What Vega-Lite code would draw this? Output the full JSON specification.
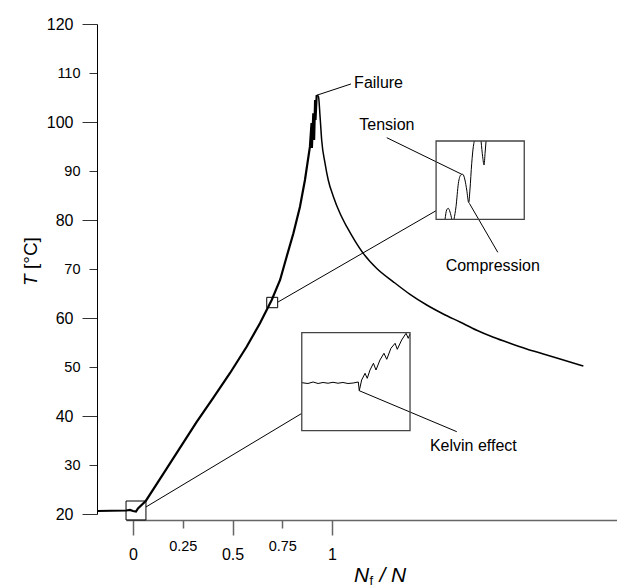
{
  "$schema": "https://vega.github.io/schema/vega-lite/v6.json",
  "width": 491,
  "height": 490,
  "autosize": {"type": "none"},
  "padding": {"left": 126, "top": 24, "right": 0, "bottom": 74},
  "background": "white",
  "config": {"view": {"stroke": null}, "font": "Liberation Sans", "axis": {"grid": false}},
  "datasets": {
    "rise": [
      {"x": -0.181, "y": 20.61}, {"x": -0.035, "y": 20.71}, {"x": -0.015, "y": 20.82}, {"x": 0.0, "y": 20.61},
      {"x": 0.015, "y": 20.51}, {"x": 0.025, "y": 21.12}, {"x": 0.065, "y": 22.71}, {"x": 0.152, "y": 28.18},
      {"x": 0.236, "y": 33.49}, {"x": 0.320, "y": 38.82}, {"x": 0.404, "y": 43.76}, {"x": 0.487, "y": 48.73},
      {"x": 0.571, "y": 54.14}, {"x": 0.638, "y": 58.92}, {"x": 0.697, "y": 63.67}, {"x": 0.739, "y": 67.76},
      {"x": 0.772, "y": 72.51}, {"x": 0.806, "y": 77.29}, {"x": 0.839, "y": 82.71}, {"x": 0.864, "y": 88.16},
      {"x": 0.889, "y": 94.96}, {"x": 0.897, "y": 99.80}, {"x": 0.899, "y": 94.69}, {"x": 0.906, "y": 101.78},
      {"x": 0.910, "y": 96.33}, {"x": 0.915, "y": 104.49}, {"x": 0.917, "y": 100.41}, {"x": 0.923, "y": 105.51}
    ],
    "decay": [
      {"x": 0.923, "y": 105.51}, {"x": 0.932, "y": 105.16}, {"x": 0.940, "y": 101.08}, {"x": 0.948, "y": 96.33},
      {"x": 0.965, "y": 91.57}, {"x": 0.981, "y": 88.16}, {"x": 1.007, "y": 84.76}, {"x": 1.040, "y": 81.37},
      {"x": 1.074, "y": 78.63}, {"x": 1.116, "y": 75.71}, {"x": 1.157, "y": 73.20}, {"x": 1.225, "y": 70.10},
      {"x": 1.308, "y": 67.39}, {"x": 1.392, "y": 64.82}, {"x": 1.476, "y": 62.65}, {"x": 1.559, "y": 60.82},
      {"x": 1.643, "y": 59.18}, {"x": 1.727, "y": 57.49}, {"x": 1.811, "y": 56.06}, {"x": 1.894, "y": 54.84},
      {"x": 1.978, "y": 53.69}, {"x": 2.062, "y": 52.67}, {"x": 2.146, "y": 51.65}, {"x": 2.263, "y": 50.20}
    ],
    "insetLow": [
      {"x": 0.848, "y": 46.80}, {"x": 0.879, "y": 46.63}, {"x": 0.905, "y": 46.94}, {"x": 0.930, "y": 46.63},
      {"x": 0.955, "y": 46.84}, {"x": 0.980, "y": 46.69}, {"x": 1.005, "y": 46.88}, {"x": 1.030, "y": 46.69},
      {"x": 1.055, "y": 46.84}, {"x": 1.080, "y": 46.63}, {"x": 1.106, "y": 46.73}, {"x": 1.132, "y": 46.94},
      {"x": 1.137, "y": 45.16}, {"x": 1.149, "y": 47.35}, {"x": 1.166, "y": 48.71}, {"x": 1.177, "y": 47.69},
      {"x": 1.191, "y": 49.39}, {"x": 1.208, "y": 50.76}, {"x": 1.221, "y": 49.39}, {"x": 1.241, "y": 51.43},
      {"x": 1.261, "y": 52.80}, {"x": 1.275, "y": 51.57}, {"x": 1.296, "y": 53.82}, {"x": 1.317, "y": 54.84},
      {"x": 1.328, "y": 53.61}, {"x": 1.350, "y": 55.51}, {"x": 1.372, "y": 56.88}, {"x": 1.383, "y": 55.86},
      {"x": 1.392, "y": 56.73}
    ],
    "insetUp": [
      {"seg": "a", "x": 1.568, "y": 80.14}, {"seg": "a", "x": 1.576, "y": 82.04}, {"seg": "a", "x": 1.584, "y": 82.39},
      {"seg": "a", "x": 1.593, "y": 81.63}, {"seg": "a", "x": 1.602, "y": 80.14},
      {"seg": "b", "x": 1.613, "y": 80.14}, {"seg": "b", "x": 1.623, "y": 82.71}, {"seg": "b", "x": 1.635, "y": 87.49},
      {"seg": "b", "x": 1.647, "y": 89.18}, {"seg": "b", "x": 1.657, "y": 89.33}, {"seg": "b", "x": 1.668, "y": 88.16},
      {"seg": "b", "x": 1.677, "y": 86.12}, {"seg": "b", "x": 1.687, "y": 83.53}, {"seg": "b", "x": 1.693, "y": 86.12},
      {"seg": "b", "x": 1.702, "y": 91.57}, {"seg": "b", "x": 1.710, "y": 94.96}, {"seg": "b", "x": 1.715, "y": 96.12},
      {"seg": "c", "x": 1.749, "y": 96.12}, {"seg": "c", "x": 1.757, "y": 92.92}, {"seg": "c", "x": 1.764, "y": 91.22},
      {"seg": "c", "x": 1.769, "y": 93.61}, {"seg": "c", "x": 1.774, "y": 96.12}
    ],
    "leaders": [
      {"x": 0.065, "y": 21.43, "x2": 0.848, "y2": 40.53},
      {"x": 0.729, "y": 63.27, "x2": 1.523, "y2": 81.90},
      {"x": 0.927, "y": 105.51, "x2": 1.095, "y2": 107.76},
      {"x": 1.275, "y": 96.80, "x2": 1.652, "y2": 89.33},
      {"x": 1.690, "y": 83.41, "x2": 1.833, "y2": 73.41},
      {"x": 1.137, "y": 45.16, "x2": 1.627, "y2": 36.80}
    ],
    "smallBoxes": [
      {"x": 0.672, "x2": 0.727, "y": 64.22, "y2": 62.10},
      {"x": -0.035, "x2": 0.065, "y": 22.65, "y2": 18.78}
    ],
    "insetBoxes": [
      {"x": 1.523, "x2": 1.966, "y": 96.12, "y2": 80.14},
      {"x": 0.848, "x2": 1.392, "y": 57.0, "y2": 37.0}
    ],
    "notes": [
      {"label": "Failure", "x": 1.111, "y": 106.84},
      {"label": "Tension", "x": 1.137, "y": 98.37},
      {"label": "Compression", "x": 1.571, "y": 69.51},
      {"label": "Kelvin effect", "x": 1.492, "y": 32.78}
    ],
    "titles": [
      {"label": "T", "x": -0.480, "y": 66.53},
      {"label": "[°C]", "x": -0.480, "y": 70.0},
      {"label": "N", "x": 1.111, "y": 6.12},
      {"label": "f", "x": 1.188, "y": 5.51},
      {"label": "/ N", "x": 1.238, "y": 6.12}
    ]
  },
  "encoding": {
    "x": {
      "field": "x", "type": "quantitative",
      "scale": {"domain": [-0.0352, 2.432], "nice": false, "zero": false},
      "axis": {
        "orient": "bottom", "offset": 6, "values": [0, 0.25, 0.5, 0.75, 1], "format": "~g", "title": null,
        "domainColor": "#666", "domainWidth": 1.5, "tickColor": "#666", "tickWidth": 1.5,
        "tickSize": {"condition": {"test": "datum.value == 0.25 || datum.value == 0.75", "value": 8}, "value": 15},
        "labelFontSize": {"condition": {"test": "datum.value == 0.25 || datum.value == 0.75", "value": 14.5}, "value": 16},
        "labelPadding": 11, "labelColor": "#000", "labelFont": "Liberation Sans", "labelFlush": false, "labelOverlap": false
      }
    },
    "y": {
      "field": "y", "type": "quantitative",
      "scale": {"domain": [20, 120], "nice": false, "zero": false},
      "axis": {
        "orient": "left", "offset": 29, "values": [20, 30, 40, 50, 60, 70, 80, 90, 100, 110, 120], "format": "d", "title": null,
        "domainColor": "#000", "domainWidth": 1, "tickColor": "#333", "tickWidth": 1,
        "tickSize": {"condition": {"test": "datum.value % 20 != 0", "value": 8}, "value": 15},
        "labelFontSize": {"condition": {"test": "datum.value % 20 != 0", "value": 14.5}, "value": 16},
        "labelPadding": 9, "labelColor": "#000", "labelFont": "Liberation Sans", "labelOverlap": false
      }
    }
  },
  "layer": [
    {"data": {"name": "rise"}, "mark": {"type": "line", "color": "#000", "strokeWidth": 2.2}},
    {"data": {"name": "decay"}, "mark": {"type": "line", "color": "#000", "strokeWidth": 1.5, "interpolate": "monotone"}},
    {"data": {"name": "insetLow"}, "mark": {"type": "line", "color": "#000", "strokeWidth": 1}},
    {"data": {"name": "insetUp"}, "mark": {"type": "line", "color": "#000", "strokeWidth": 1, "interpolate": "monotone"},
     "encoding": {"detail": {"field": "seg", "type": "nominal"}}},
    {"data": {"name": "leaders"}, "mark": {"type": "rule", "color": "#000", "strokeWidth": 1},
     "encoding": {"x2": {"field": "x2"}, "y2": {"field": "y2"}}},
    {"data": {"name": "smallBoxes"}, "mark": {"type": "rect", "filled": false, "stroke": "#000", "strokeWidth": 1},
     "encoding": {"x2": {"field": "x2"}, "y2": {"field": "y2"}}},
    {"data": {"name": "insetBoxes"}, "mark": {"type": "rect", "filled": false, "stroke": "#444", "strokeWidth": 1.3},
     "encoding": {"x2": {"field": "x2"}, "y2": {"field": "y2"}}},
    {"data": {"name": "notes"}, "mark": {"type": "text", "align": "left", "baseline": "alphabetic", "fontSize": 16, "font": "Liberation Sans", "color": "#000"},
     "encoding": {"text": {"field": "label"}}},
    {"data": {"name": "titles"}, "transform": [{"filter": "datum.label == 'T'"}],
     "mark": {"type": "text", "angle": 270, "align": "left", "baseline": "alphabetic", "fontSize": 19, "fontStyle": "italic", "font": "Liberation Sans", "color": "#000"},
     "encoding": {"text": {"field": "label"}}},
    {"data": {"name": "titles"}, "transform": [{"filter": "datum.label == '[°C]'"}],
     "mark": {"type": "text", "angle": 270, "align": "left", "baseline": "alphabetic", "fontSize": 19, "font": "Liberation Sans", "color": "#000"},
     "encoding": {"text": {"field": "label"}}},
    {"data": {"name": "titles"}, "transform": [{"filter": "datum.label == 'N' || datum.label == '/ N'"}],
     "mark": {"type": "text", "align": "left", "baseline": "alphabetic", "fontSize": 21, "fontStyle": "italic", "font": "Liberation Sans", "color": "#000"},
     "encoding": {"text": {"field": "label"}}},
    {"data": {"name": "titles"}, "transform": [{"filter": "datum.label == 'f'"}],
     "mark": {"type": "text", "align": "left", "baseline": "alphabetic", "fontSize": 13, "font": "Liberation Sans", "color": "#000"},
     "encoding": {"text": {"field": "label"}}}
  ]
}
